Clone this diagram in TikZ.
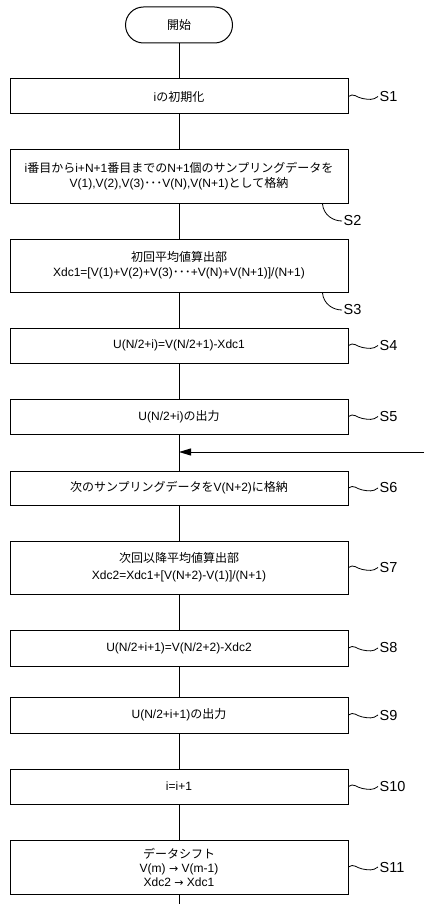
\documentclass[tikz,border=0pt]{standalone}
\usepackage{fontspec}
\setmainfont{Liberation Sans}
\newfontfamily\jp{Noto Sans CJK JP}
\newfontfamily\dv{DejaVu Sans}
\usetikzlibrary{arrows.meta}
\begin{document}
\begin{tikzpicture}[x=1pt,y=-1pt,
  box/.style={draw, line width=1pt, minimum width=338pt, inner sep=0pt, align=center,
    font=\fontsize{12}{15}\selectfont},
  lab/.style={anchor=west, inner sep=1.5pt, font=\fontsize{14.5}{16}\selectfont},
  conn/.style={line width=1pt},
  squig/.style={line width=0.8pt}]
\useasboundingbox (0,0) rectangle (424,904);
\node[box, minimum width=107pt, minimum height=36pt, rounded corners=18pt] (start) at (179,25) {{\jp 開始}};
\node[box, minimum height=35pt] (s1) at (179,96.5) {i{\jp の初期化}};
\node[box, minimum height=53pt] (s2) at (179,176.5) {i{\jp 番目から}i+N+1{\jp 番目までの}N+1{\jp 個のサンプリングデータを}\\V(1),V(2),V(3){\jp ･･･}V(N),V(N+1){\jp として格納}};
\node[box, minimum height=53pt] (s3) at (179,265.5) {{\jp 初回平均値算出部}\\Xdc1=[V(1)+V(2)+V(3){\jp ･･･}+V(N)+V(N+1)]/(N+1)};
\node[box, minimum height=35pt] (s4) at (179,345.5) {U(N/2+i)=V(N/2+1)-Xdc1};
\node[box, minimum height=35pt] (s5) at (179,416.5) {U(N/2+i){\jp の出力}};
\node[box, minimum height=34pt] (s6) at (179,488) {{\jp 次のサンプリングデータを}V(N+2){\jp に格納}};
\node[box, minimum height=53pt, font=\fontsize{12}{17}\selectfont] (s7) at (179,567.5) {{\jp 次回以降平均値算出部}\\Xdc2=Xdc1+[V(N+2)-V(1)]/(N+1)};
\node[box, minimum height=36pt] (s8) at (179,648) {U(N/2+i+1)=V(N/2+2)-Xdc2};
\node[box, minimum height=36pt] (s9) at (179,715) {U(N/2+i+1){\jp の出力}};
\node[box, minimum height=35pt] (s10) at (179,786.5) {i=i+1};
\node[box, minimum height=54pt, font=\fontsize{12}{14}\selectfont] (s11) at (179,867) {{\jp データシフト}\\V(m) {\dv\fontsize{11}{12}\selectfont →} V(m-1)\\Xdc2 {\dv\fontsize{11}{12}\selectfont →} Xdc1};
% labels
\node[lab] (lab1) at (378,96.5) {S1};
\node[lab] (lab2) at (342,221) {S2};
\node[lab] (lab3) at (342,310) {S3};
\node[lab] (lab4) at (378,345.5) {S4};
\node[lab] (lab5) at (378,416.5) {S5};
\node[lab] (lab6) at (378,488) {S6};
\node[lab] (lab7) at (378,567.5) {S7};
\node[lab] (lab8) at (378,648) {S8};
\node[lab] (lab9) at (378,715) {S9};
\node[lab] (lab10) at (378,786.5) {S10};
\node[lab] (lab11) at (378,867) {S11};
\foreach \n in {1,4,5,6,7,8,9,10,11}{
  \draw[squig] (s\n.east) .. controls +(5,-4) and +(-6,-1) .. ++(14,2) .. controls +(6,1) and +(-5,4) .. (lab\n.west);
}
\draw[squig] (s2.south east) ++(-26,0.5) .. controls +(1,11) and +(-9,0) .. (lab2.west);
\draw[squig] (s3.south east) ++(-26,0.5) .. controls +(1,11) and +(-9,0) .. (lab3.west);
% connectors
\coordinate (entry) at (424,452);
\coordinate (join) at (179,452);
\coordinate (out) at (179,904);
\draw[conn] (start) -- (s1);
\draw[conn] (s1) -- (s2);
\draw[conn] (s2) -- (s3);
\draw[conn] (s3) -- (s4);
\draw[conn] (s4) -- (s5);
\draw[conn] (s5) -- (s6);
\draw[conn] (s6) -- (s7);
\draw[conn] (s7) -- (s8);
\draw[conn] (s8) -- (s9);
\draw[conn] (s9) -- (s10);
\draw[conn] (s10) -- (s11);
\draw[conn] (s11) -- (out);
\draw[conn, -{Triangle[length=12pt,width=7pt]}] (entry) -- (join);
\end{tikzpicture}
\end{document}
